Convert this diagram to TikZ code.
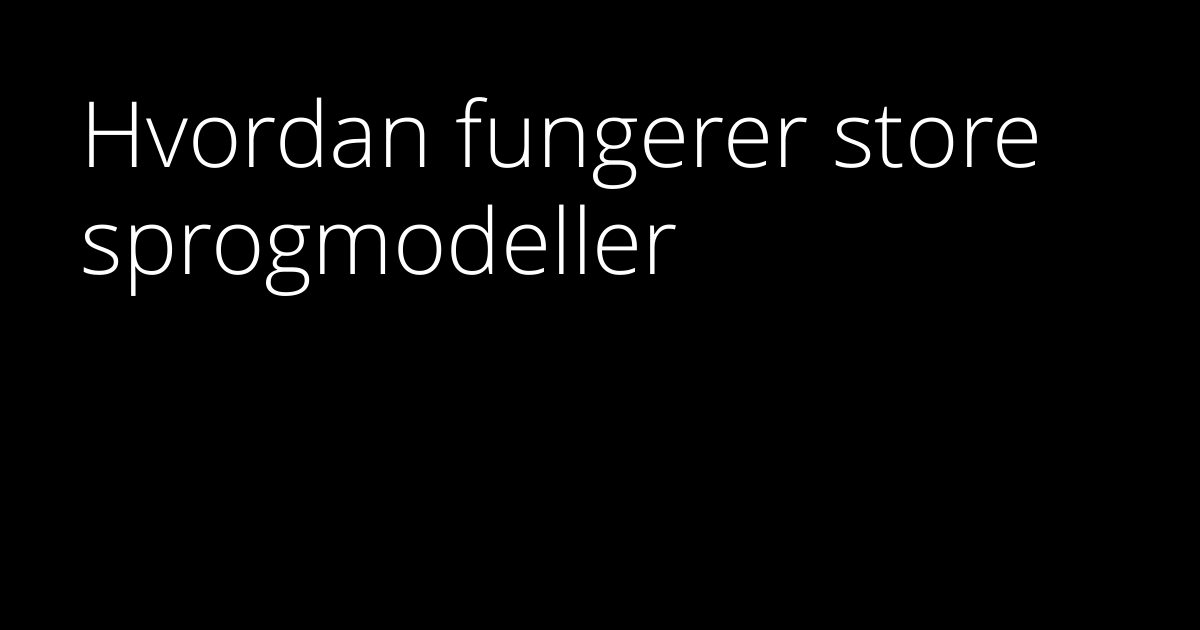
\documentclass[tikz,border=0pt]{standalone}
\usepackage{fontspec}
\setmainfont{Open Sans}[UprightFont=* Light]
\usepackage{xcolor}

\begin{document}
\begin{tikzpicture}[x=1cm,y=1cm,
    titletext/.style={text=white, inner sep=0pt, font=\fontsize{26pt}{30pt}\selectfont}]
        \fill[black] (0,0) rectangle (12,6.3);
        \useasboundingbox (0,0) rectangle (12,6.3);
        \node[titletext, anchor=base west] (line1) at (0.80,4.62) {Hvordan fungerer store};
        \node[titletext, anchor=base west] (line2) at ([yshift=-1.07cm]line1.base west) {sprogmodeller};
    	\end{tikzpicture}
\end{document}
